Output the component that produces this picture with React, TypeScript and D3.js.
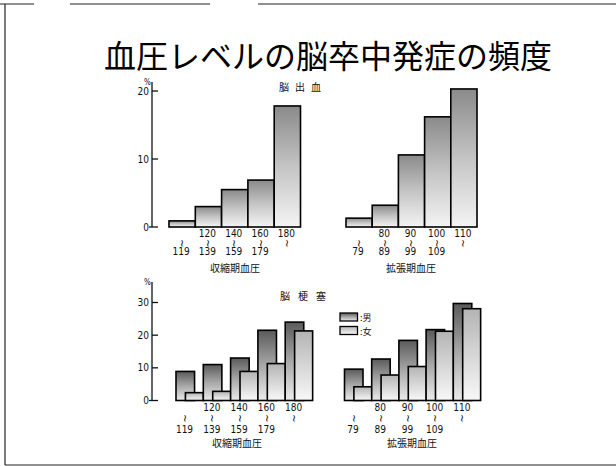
import React from "react";
import * as d3 from "d3";

const sbpStart = ["", "120", "140", "160", "180"];
const sbpEnd = ["119", "139", "159", "179", ""];
const dbpStart = ["", "80", "90", "100", "110"];
const dbpEnd = ["79", "89", "99", "109", ""];
const hemSbp = [0.9, 3.0, 5.5, 6.9, 17.8];
const hemDbp = [1.3, 3.2, 10.6, 16.2, 20.3];
const infSbpMale = [8.9, 11.0, 13.0, 21.5, 24.0];
const infSbpFemale = [2.4, 2.8, 8.9, 11.3, 21.3];
const infDbpMale = [9.6, 12.7, 18.4, 21.7, 29.7];
const infDbpFemale = [4.2, 7.8, 10.4, 21.2, 28.1];
const hemTicks = [0, 10, 20];
const infTicks = [0, 10, 20, 30];
const title = "血圧レベルの脳卒中発症の頻度";
const hemTitle = "脳出血";
const infTitle = "脳梗塞";
const sbpName = "収縮期血圧";
const dbpName = "拡張期血圧";
const legendNames = ["男", "女"];

const JP = "'Noto Sans CJK JP', 'Noto Sans', sans-serif";
const NUM = "'Liberation Sans Narrow', 'DejaVu Sans Condensed', 'Liberation Sans', sans-serif";

const idx = d3.range(5).map(String);

function Labels({ xc, starts, ends, y1, y2, y3, name, nameX, nameY }: any) {
  return (
    <g fontFamily={NUM} fontSize={10} fill="#111" textAnchor="middle">
      {idx.map((k, i) => (
        <g key={k}>
          {starts[i] && <text x={xc(i)} y={y1}>{starts[i]}</text>}
          <text transform={`translate(${xc(i)},${y2}) rotate(90)`} fontSize={10} dominantBaseline="central"
            fontFamily="'DejaVu Sans', sans-serif">~</text>
          {ends[i] && <text x={xc(i)} y={y3}>{ends[i]}</text>}
        </g>
      ))}
      <text x={nameX} y={nameY} fontFamily={JP} fontSize={10}>{name}</text>
    </g>
  );
}

function YAxis({ y, ticks, x0, top }: any) {
  return (
    <g>
      <line x1={x0} x2={x0} y1={top} y2={y(0)} stroke="#111" strokeWidth={1.3} />
      {ticks.map((t: number) => (
        <g key={t}>
          <line x1={x0 - (t === 0 ? 3 : 0)} x2={x0 + 6} y1={y(t)} y2={y(t)} stroke="#111" strokeWidth={1.3} />
          <text x={x0 - 3} y={y(t) + 3.5} textAnchor="end" fontFamily={NUM} fontSize={10} fill="#111">{t}</text>
        </g>
      ))}
      <text x={x0 - 8} y={top + 3} fontFamily={NUM} fontSize={8} fill="#111">%</text>
    </g>
  );
}

export default function App() {
  const yH = d3.scaleLinear().domain([0, 20]).range([227, 91]);
  const xHL = d3.scaleBand().domain(idx).range([169, 300.5]).padding(0);
  const xHR = d3.scaleBand().domain(idx).range([346, 477]).padding(0);
  const yI = d3.scaleLinear().domain([0, 30]).range([400.5, 302.5]);
  const xIL = d3.scaleBand().domain(idx).range([176, 312.5]).padding(0);
  const xIR = d3.scaleBand().domain(idx).range([344.5, 480.5]).padding(0);

  const single = (x: any, vals: number[], key: string) =>
    vals.map((v, i) => (
      <rect key={key + i} x={x(String(i))!} y={yH(v)} width={x.bandwidth()} height={yH(0) - yH(v)}
        fill="url(#gH)" stroke="#000" strokeWidth={1.6} />
    ));

  const grouped = (x: any, male: number[], female: number[], key: string) => {
    const bw = x.bandwidth();
    return idx.map((k, i) => (
      <g key={key + k}>
        <rect x={x(k)!} y={yI(male[i])} width={bw * 0.68} height={yI(0) - yI(male[i])}
          fill="url(#gM)" stroke="#000" strokeWidth={1.6} />
        <rect x={x(k)! + bw * 0.345} y={yI(female[i])} width={bw * 0.66} height={yI(0) - yI(female[i])}
          fill="url(#gF)" stroke="#000" strokeWidth={1.6} />
      </g>
    ));
  };

  const cS = (x: any) => (i: number) => x(String(i))! + x.bandwidth() / 2 - 1;
  const cG = (x: any) => (i: number) => x(String(i))! + 8.5;

  return (
    <svg width={616} height={466} style={{ position: "absolute", left: 0, top: 0 }}>
      <defs>
        <linearGradient id="gH" x1="0" y1="0" x2="0" y2="1">
          <stop offset="0" stopColor="#8a8a8a" />
          <stop offset="0.5" stopColor="#c4c4c4" />
          <stop offset="1" stopColor="#f4f4f4" />
        </linearGradient>
        <linearGradient id="gM" x1="0" y1="0" x2="0" y2="1">
          <stop offset="0" stopColor="#5a5a5a" />
          <stop offset="0.5" stopColor="#a8a8a8" />
          <stop offset="1" stopColor="#ececec" />
        </linearGradient>
        <linearGradient id="gF" x1="0" y1="0" x2="0" y2="1">
          <stop offset="0" stopColor="#b4b4b4" />
          <stop offset="0.5" stopColor="#d6d6d6" />
          <stop offset="1" stopColor="#f8f8f8" />
        </linearGradient>
      </defs>
      <rect width={616} height={466} fill="#fff" />
      <line x1={0} x2={616} y1={4} y2={4} stroke="#222" strokeWidth={1.2} strokeDasharray="34 36 140 48 360" />
      <line x1={5} x2={5} y1={4} y2={465} stroke="#222" strokeWidth={1.2} />
      <line x1={5} x2={616} y1={465} y2={465} stroke="#222" strokeWidth={1.2} />

      <text x={328} y={68} textAnchor="middle" fontFamily={JP} fontSize={32} fill="#000">{title}</text>

      <text x={303} y={91} textAnchor="middle" fontFamily={JP} fontSize={10} letterSpacing={6} fill="#111">{hemTitle}</text>
      <YAxis y={yH} ticks={hemTicks} x0={152} top={82} />
      {single(xHL, hemSbp, "hl")}
      {single(xHR, hemDbp, "hr")}
      <Labels xc={cS(xHL)} starts={sbpStart} ends={sbpEnd} y1={237} y2={243.5} y3={255} name={sbpName} nameX={235} nameY={272} />
      <Labels xc={cS(xHR)} starts={dbpStart} ends={dbpEnd} y1={237} y2={243.5} y3={255} name={dbpName} nameX={411} nameY={272} />

      <text x={307} y={300} textAnchor="middle" fontFamily={JP} fontSize={10} letterSpacing={8} fill="#111">{infTitle}</text>
      <YAxis y={yI} ticks={infTicks} x0={152} top={282} />
      {grouped(xIL, infSbpMale, infSbpFemale, "il")}
      {grouped(xIR, infDbpMale, infDbpFemale, "ir")}
      <Labels xc={cG(xIL)} starts={sbpStart} ends={sbpEnd} y1={411} y2={418.5} y3={432.5} name={sbpName} nameX={237} nameY={447} />
      <Labels xc={cG(xIR)} starts={dbpStart} ends={dbpEnd} y1={411} y2={418.5} y3={432.5} name={dbpName} nameX={412} nameY={447} />

      {legendNames.map((n, i) => (
        <g key={n}>
          <rect x={340} y={313 + i * 13.5} width={17.5} height={8} fill={i === 0 ? "url(#gM)" : "url(#gF)"} stroke="#000" strokeWidth={1.3} />
          <text x={360} y={321 + i * 13.5} fontFamily={JP} fontSize={9} fill="#111">:{n}</text>
        </g>
      ))}
    </svg>
  );
}
